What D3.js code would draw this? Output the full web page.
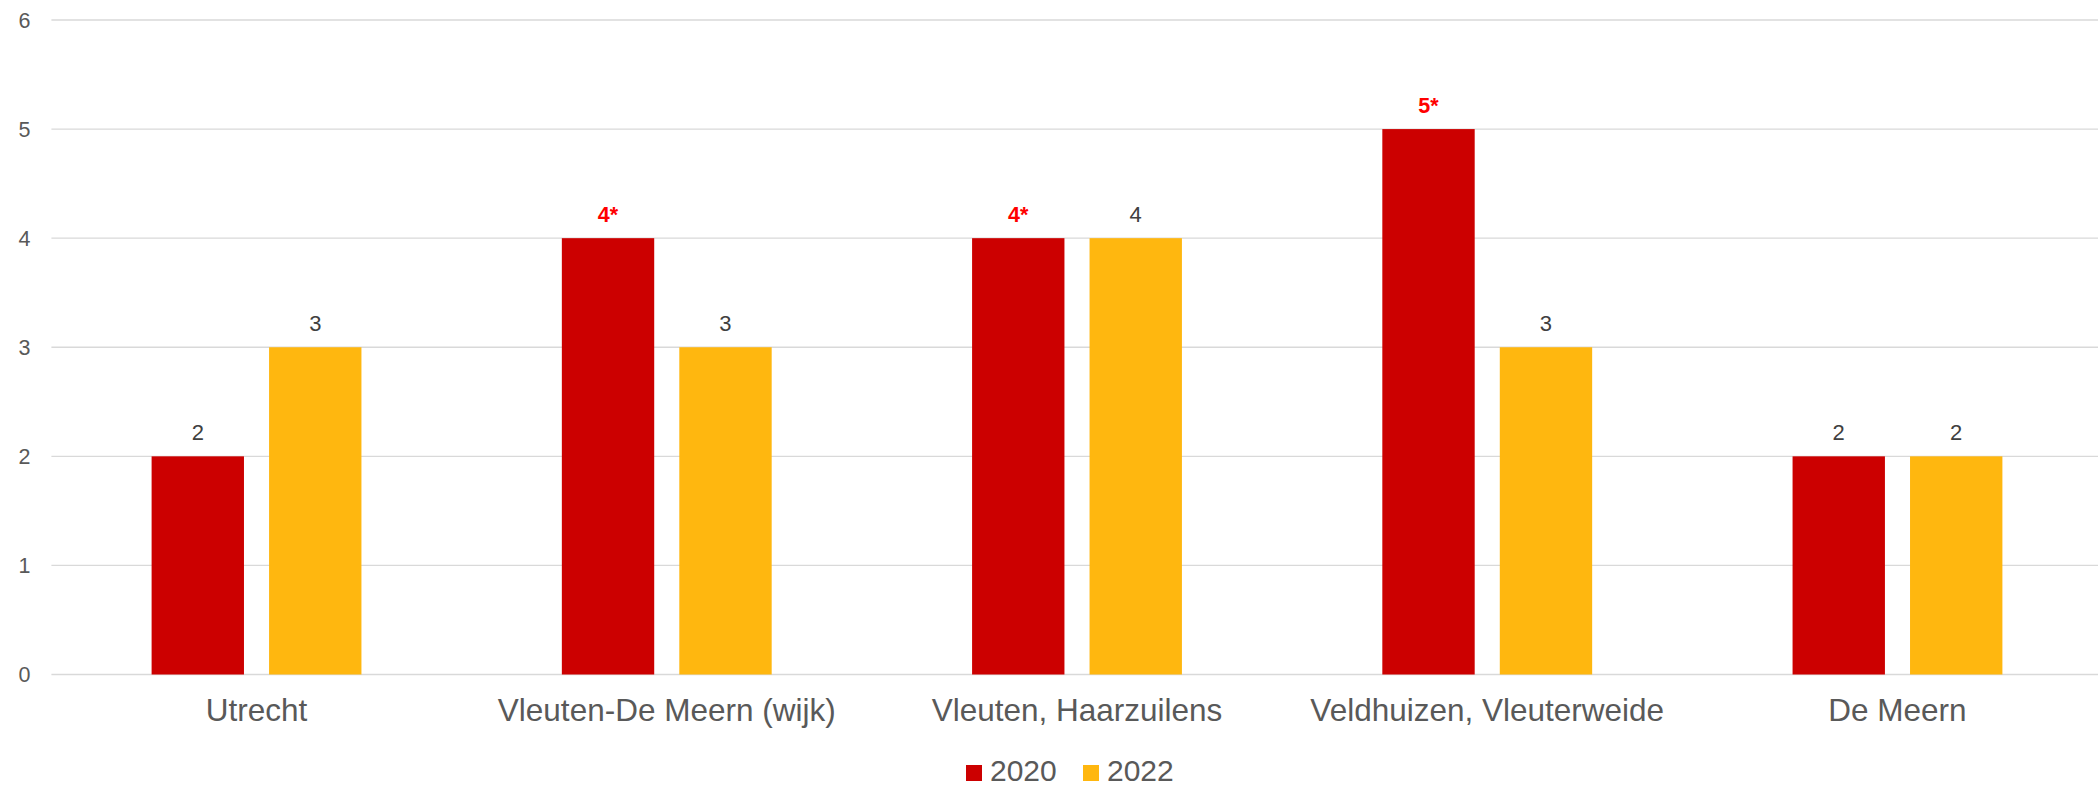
<!DOCTYPE html>
<html>
<head>
<meta charset="utf-8">
<script src="https://cdn.jsdelivr.net/npm/d3@7"></script>
<style>
  html, body { margin: 0; padding: 0; background: #fff; }
  svg { display: block; font-family: "Liberation Sans", Arial, sans-serif; }
</style>
</head>
<body>
<svg id="chart" width="2098" height="787"></svg>
<script>
const categories = ["Utrecht", "Vleuten-De Meern (wijk)", "Vleuten, Haarzuilens", "Veldhuizen, Vleuterweide", "De Meern"];
const seriesNames = ["2020", "2022"];
const values2020 = [2, 4, 4, 5, 2];
const values2022 = [3, 3, 4, 3, 2];
const labels2020 = ["2", "4*", "4*", "5*", "2"];
const labels2022 = ["3", "3", "4", "3", "2"];
const yTicks = [0, 1, 2, 3, 4, 5, 6];

(function () {
const colors = { "2020": "#CC0000", "2022": "#FFB70F" };
const seriesValues = { "2020": values2020, "2022": values2022 };
const seriesLabels = { "2020": labels2020, "2022": labels2022 };

const svg = d3.select("#chart");
const W = 2098;
const pLeft = 51.4, pRight = 2102.6, pTop = 20, pBottom = 674.5;

const y = d3.scaleLinear().domain([0, 6]).range([pBottom, pTop]);
const x0 = d3.scaleBand().domain(categories).range([pLeft, pRight]).padding(0);
const x1 = d3.scaleBand().domain(seriesNames).range([0, x0.bandwidth()])
  .paddingInner(25 / 117).paddingOuter(0.853);

// gridlines
svg.append("g").selectAll("line").data(yTicks).join("line")
  .attr("x1", pLeft).attr("x2", W)
  .attr("y1", d => y(d)).attr("y2", d => y(d))
  .attr("stroke", "#d9d9d9").attr("stroke-width", 1.4);

// y tick labels
svg.append("g").selectAll("text").data(yTicks).join("text")
  .attr("x", 30.5).attr("y", d => y(d))
  .attr("dy", "0.36em")
  .attr("text-anchor", "end")
  .attr("font-size", 21.5).attr("fill", "#595959")
  .text(d => d);

// bars
const rows = [];
categories.forEach((c, i) => {
  seriesNames.forEach(s => {
    rows.push({ cat: c, series: s, value: seriesValues[s][i], label: seriesLabels[s][i] });
  });
});

svg.append("g").selectAll("rect").data(rows).join("rect")
  .attr("x", d => x0(d.cat) + x1(d.series))
  .attr("y", d => y(d.value))
  .attr("width", x1.bandwidth())
  .attr("height", d => y(0) - y(d.value))
  .attr("fill", d => colors[d.series]);

// value labels
svg.append("g").selectAll("text").data(rows).join("text")
  .attr("x", d => x0(d.cat) + x1(d.series) + x1.bandwidth() / 2)
  .attr("y", d => y(d.value) - 16.5)
  .attr("text-anchor", "middle")
  .attr("font-size", d => d.label.includes("*") ? 21.5 : 22)
  .attr("font-weight", d => d.label.includes("*") ? "bold" : "normal")
  .attr("fill", d => d.label.includes("*") ? "#FF0000" : "#404040")
  .text(d => d.label);

// category labels
svg.append("g").selectAll("text").data(categories).join("text")
  .attr("x", d => x0(d) + x0.bandwidth() / 2)
  .attr("y", 721)
  .attr("text-anchor", "middle")
  .attr("font-size", 31.5).attr("fill", "#595959")
  .text(d => d);

// legend
const legendItems = [
  { name: "2020", sx: 966, tx: 990 },
  { name: "2022", sx: 1083, tx: 1107 }
];
const lg = svg.append("g");
lg.selectAll("rect").data(legendItems).join("rect")
  .attr("x", d => d.sx).attr("y", 765).attr("width", 16).attr("height", 16)
  .attr("fill", d => colors[d.name]);
lg.selectAll("text").data(legendItems).join("text")
  .attr("x", d => d.tx).attr("y", 781)
  .attr("font-size", 30).attr("fill", "#595959")
  .text(d => d.name);
})();
</script>
</body>
</html>
